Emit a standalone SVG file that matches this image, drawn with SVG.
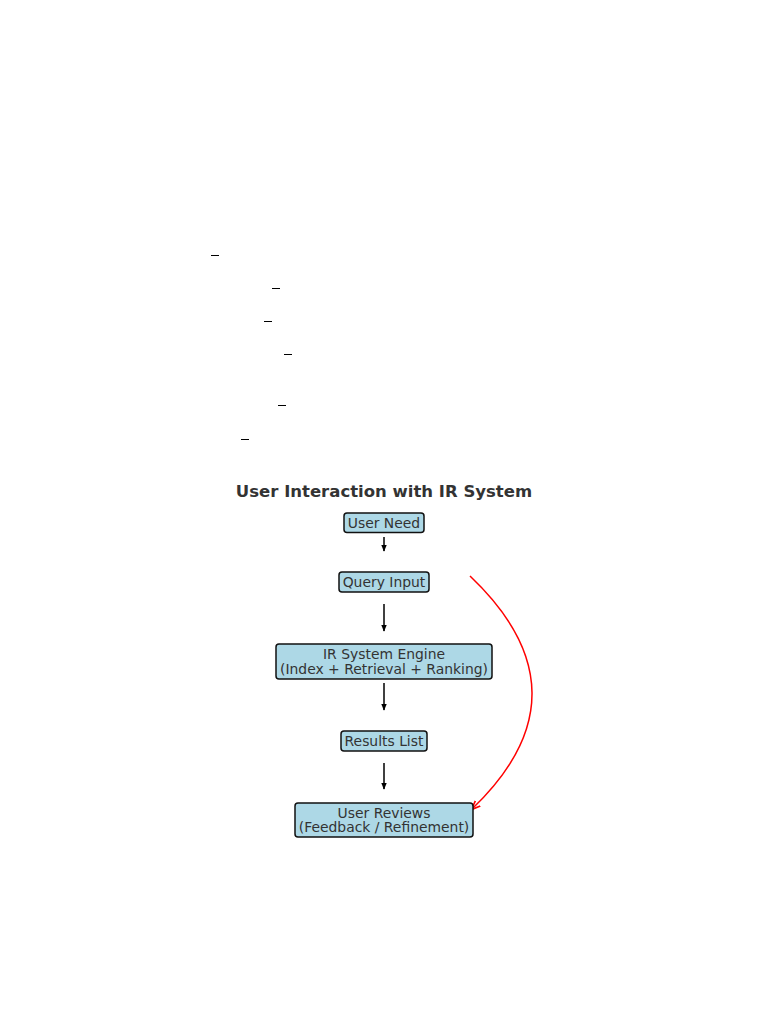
<svg xmlns="http://www.w3.org/2000/svg" width="768" height="1024" viewBox="0 0 768 1024">
<defs>
<style>
.box{fill:#add8e6;stroke:#111;stroke-width:1.5}
.t{font-family:"DejaVu Sans",sans-serif;font-size:13.9px;fill:#333;text-anchor:middle}
.title{font-family:"DejaVu Sans",sans-serif;font-size:16.5px;font-weight:bold;fill:#333;text-anchor:middle}
.arr{stroke:#000;stroke-width:1.5;fill:none;marker-end:url(#ah)}
.dash{stroke:#000;stroke-width:1}
</style>
<marker id="ah" viewBox="0 0 10 10" refX="9" refY="5" markerWidth="7" markerHeight="7" orient="auto" markerUnits="userSpaceOnUse">
<path d="M0,1 L10,5 L0,9 z" fill="#000"/>
</marker>
<marker id="ahr" viewBox="0 0 10 10" refX="9" refY="5" markerWidth="9" markerHeight="9" orient="auto" markerUnits="userSpaceOnUse">
<path d="M0,1 L10,5 L0,9" fill="none" stroke="#f00" stroke-width="1.8"/>
</marker>
</defs>
<rect width="768" height="1024" fill="#fff"/>
<g id="dashes">
<line class="dash" x1="211" y1="255.5" x2="219" y2="255.5"/>
<line class="dash" x1="272" y1="288.5" x2="280" y2="288.5"/>
<line class="dash" x1="264" y1="321.5" x2="272" y2="321.5"/>
<line class="dash" x1="284" y1="354.5" x2="292" y2="354.5"/>
<line class="dash" x1="278" y1="405.5" x2="286" y2="405.5"/>
<line class="dash" x1="241" y1="439.5" x2="249" y2="439.5"/>
</g>
<text class="title" x="384" y="497">User Interaction with IR System</text>
<g id="connectors">
<line class="arr" x1="384" y1="537" x2="384" y2="551"/>
<line class="arr" x1="384" y1="604" x2="384" y2="631"/>
<line class="arr" x1="384" y1="683" x2="384" y2="710"/>
<line class="arr" x1="384" y1="763" x2="384" y2="789"/>
<path d="M470,576 Q593,693 472,809" fill="none" stroke="#f00" stroke-width="1.5" marker-end="url(#ahr)"/>
</g>
<g id="user-need">
<rect class="box" x="344" y="513" width="80" height="19.5" rx="3"/>
<text class="t" x="384" y="527.5">User Need</text>
</g>
<g id="query-input">
<rect class="box" x="339" y="572" width="90" height="20" rx="3"/>
<text class="t" x="384" y="587">Query Input</text>
</g>
<g id="ir-engine">
<rect class="box" x="276" y="644" width="216" height="35" rx="3"/>
<text class="t" x="384" y="659">IR System Engine</text>
<text class="t" x="384" y="673.5">(Index + Retrieval + Ranking)</text>
</g>
<g id="results-list">
<rect class="box" x="341" y="731" width="86" height="20" rx="3"/>
<text class="t" x="384" y="746">Results List</text>
</g>
<g id="user-reviews">
<rect class="box" x="295" y="803" width="178" height="34" rx="3"/>
<text class="t" x="384" y="817.5">User Reviews</text>
<text class="t" x="384" y="832">(Feedback / Refinement)</text>
</g>
</svg>
